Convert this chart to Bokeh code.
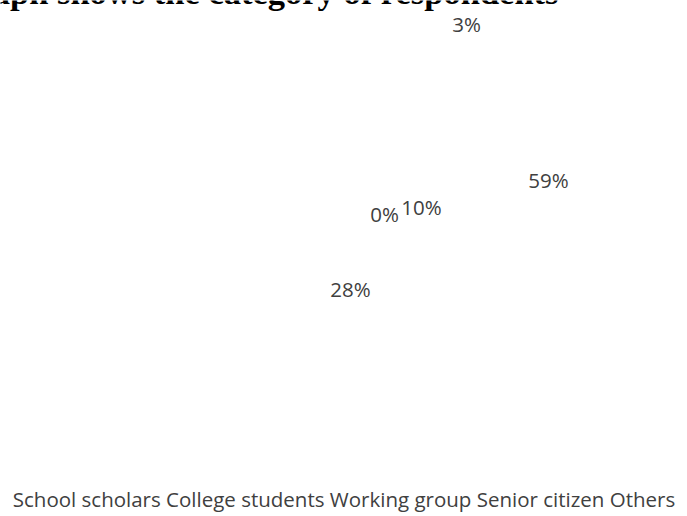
from bokeh.plotting import figure
from bokeh.models import Range1d, ColumnDataSource
from bokeh.core.properties import value
from bokeh.embed import file_html
from bokeh.resources import INLINE
import math

# ---- data ----
categories = ["School scholars", "College students", "Working group", "Senior citizen", "Others"]
shares = [3, 59, 28, 0, 10]  # percent
title_text = "Graph shows the category of respondents"

# ---- layout (pixel frame, y grows downward) ----
W, H = 687, 516
pie_cx, pie_cy, pie_r = 456, 235, 150
# manual data-label anchor offsets from the pie centre (like hand-placed Excel labels)
label_dx = [10, 92, -106, -72, -35]
label_dy = [-212, -56, 53, -22, -29]

p = figure(width=W, height=H, output_backend="svg", toolbar_location=None,
           x_range=Range1d(0, W), y_range=Range1d(H, 0), min_border=0)
p.axis.visible = False
p.grid.visible = False
p.outline_line_color = None
p.background_fill_color = "white"

# pie wedges (rendered in white like the reference, where the fills are not visible)
total = sum(shares)
starts, ends = [], []
acc = 0.0
for v in shares:
    a0 = -math.pi / 2 + 2 * math.pi * acc / total
    acc += v
    a1 = -math.pi / 2 + 2 * math.pi * acc / total
    starts.append(a0)
    ends.append(a1)
src = ColumnDataSource(dict(x=[pie_cx] * len(shares), y=[pie_cy] * len(shares),
                            start=starts, end=ends, cat=categories))
p.wedge(x="x", y="y", radius=pie_r, start_angle="start", end_angle="end",
        fill_color="white", line_color=None, source=src)

# data labels
lab = ColumnDataSource(dict(
    x=[pie_cx + d for d in label_dx],
    y=[pie_cy + d for d in label_dy],
    t=[f"{v}%" for v in shares]))
p.text(x="x", y="y", text="t", source=lab, text_align="center", text_baseline="middle",
       text_font=value("Open Sans"), text_font_size="20.5px", text_color="#404040")

# legend row (markers not visible in the reference, only names)
p.text(x=[W / 2], y=[498], text=[" ".join(categories)], text_align="center",
       text_baseline="middle", text_font=value("Open Sans"), text_font_size="20.5px",
       text_color="#404040")

# title, partially cut off at the top of the picture
p.text(x=[558], y=[10], text=[title_text], text_align="right", text_baseline="bottom",
       text_font=value("Liberation Serif"), text_font_style="bold",
       text_font_size="34.5px", text_color="black")

open("out.html", "w").write(file_html(p, INLINE))
